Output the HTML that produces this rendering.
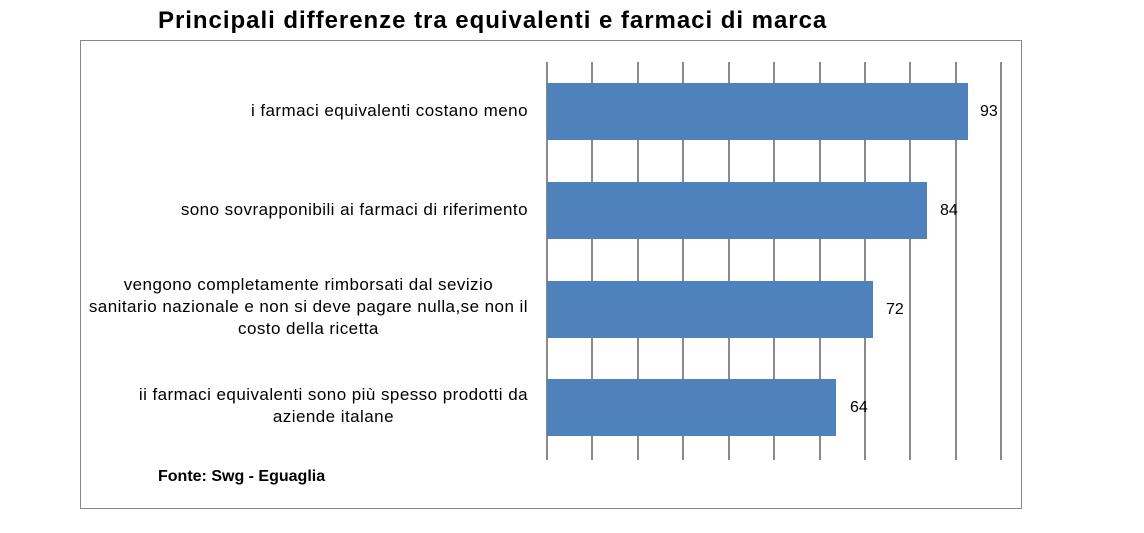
<!DOCTYPE html>
<html><head><meta charset="utf-8"><style>
body{margin:0;width:1144px;height:533px;background:#fff;position:relative;overflow:hidden;font-family:"Liberation Sans",sans-serif}
.t{position:absolute;left:158px;top:7px;font-size:24px;letter-spacing:0.97px;font-weight:bold;color:#000;white-space:nowrap}
.box{position:absolute;left:80px;top:40px;width:942px;height:469px;border:1.5px solid #888;box-sizing:border-box}
.g{position:absolute;top:62px;height:398px;width:2px;background:#8a8a8a}
.bar{position:absolute;left:547px;height:57px;background:#4f81bd}
.v{position:absolute;font-size:16px;color:#000}
.l{position:absolute;right:616px;font-size:17px;letter-spacing:0.45px;line-height:22px;text-align:center;color:#000;white-space:nowrap}
.f{position:absolute;left:158px;top:468px;font-size:16px;font-weight:bold}
</style></head><body>
<div class="t">Principali differenze tra equivalenti e farmaci di marca</div>
<div class="box"></div>
<div class="g" style="left:546px"></div><div class="g" style="left:591px"></div><div class="g" style="left:637px"></div><div class="g" style="left:682px"></div><div class="g" style="left:728px"></div><div class="g" style="left:773px"></div><div class="g" style="left:819px"></div><div class="g" style="left:864px"></div><div class="g" style="left:909px"></div><div class="g" style="left:955px"></div><div class="g" style="left:1000px"></div>
<div class="bar" style="top:83px;width:421px"></div>
<div class="bar" style="top:182px;width:380px"></div>
<div class="bar" style="top:281px;width:326px"></div>
<div class="bar" style="top:379px;width:289px"></div>
<div class="v" style="left:980px;top:103px">93</div>
<div class="v" style="left:940px;top:202px">84</div>
<div class="v" style="left:886px;top:301px">72</div>
<div class="v" style="left:850px;top:399px">64</div>
<div class="l" style="top:100px">i farmaci equivalenti costano meno</div>
<div class="l" style="top:199px">sono sovrapponibili ai farmaci di riferimento</div>
<div class="l" style="top:274px">vengono completamente rimborsati dal sevizio<br>sanitario nazionale e non si deve pagare nulla,se non il<br>costo della ricetta</div>
<div class="l" style="top:384px">ii farmaci equivalenti sono più spesso prodotti da<br>aziende italane</div>
<div class="f">Fonte: Swg - Eguaglia</div>
</body></html>
